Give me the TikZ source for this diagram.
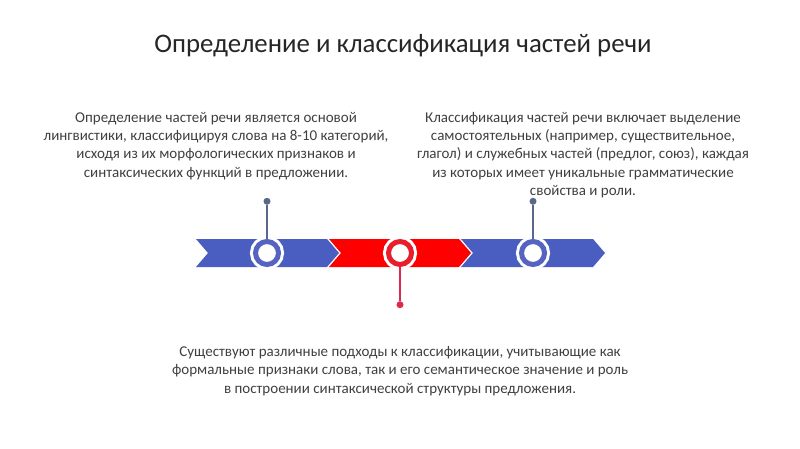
\documentclass[tikz,border=0pt]{standalone}
\usepackage{fontspec}
\setmainfont{Carlito}
\usetikzlibrary{positioning}
\definecolor{bandblue}{HTML}{4A5EC2}
\definecolor{bandred}{HTML}{FF0000}
\definecolor{ringblue}{HTML}{5563C1}
\definecolor{ringred}{HTML}{E81E2C}
\definecolor{stemblue}{HTML}{5B6688}
\definecolor{stemred}{HTML}{DD2A4C}
\definecolor{txt}{HTML}{404040}
\begin{document}
\begin{tikzpicture}[x=1pt,y=-1pt,
    ring/.style={circle,draw=#1,fill=white,line width=5pt,minimum size=23pt,inner sep=0pt,
                 preaction={draw=white,line width=11pt}},
    dot/.style={circle,fill=#1,minimum size=7pt,inner sep=0pt},
    stem/.style={draw=#1,line width=1.5pt},
    body/.style={align=center,text=txt,font=\fontsize{15}{18.3}\selectfont},
    node distance={34pt}]
                \useasboundingbox[fill=white] (0,0) rectangle (800,449);
                \node[font=\fontsize{26.8}{31}\selectfont,text=black!85](title) at (403,46){Определение и классификация частей речи};
                % band
                \fill[bandblue] (196,239) -- (327,239) -- (339,253) -- (327,267) -- (196,267) -- (208,253) -- cycle;
                \fill[bandred] (329,239) -- (459,239) -- (471,253) -- (459,267) -- (329,267) -- (341,253) -- cycle;
                \fill[bandblue] (461,239) -- (593,239) -- (605,253) -- (593,267) -- (461,267) -- (473,253) -- cycle;
                \node[ring=ringblue](c1) at (267,253){};
                \node[ring=ringred](c2) at (400,253){};
                \node[ring=ringblue](c3) at (533,253){};
                \node[dot=stemblue](d1)[above=of c1]{};
                \node[dot=stemred](d2)[below=of c2]{};
                \node[dot=stemblue](d3)[above=of c3]{};
                \draw[stem=stemblue](c1) -- (d1);
                \draw[stem=stemred](c2) -- (d2);
                \draw[stem=stemblue](c3) -- (d3);
                \node[body](t1) at (216,146){Определение частей речи является основой\\лингвистики, классифицируя слова на 8-10 категорий,\\исходя из их морфологических признаков и\\синтаксических функций в предложении.};
                \node[body](t3) at (583,155){Классификация частей речи включает выделение\\самостоятельных (например, существительное,\\глагол) и служебных частей (предлог, союз), каждая\\из которых имеет уникальные грамматические\\свойства и роли.};
                \node[body](t2) at (400,371){Существуют различные подходы к классификации, учитывающие как\\формальные признаки слова, так и его семантическое значение и роль\\в построении синтаксической структуры предложения.};
            \end{tikzpicture}
\end{document}
